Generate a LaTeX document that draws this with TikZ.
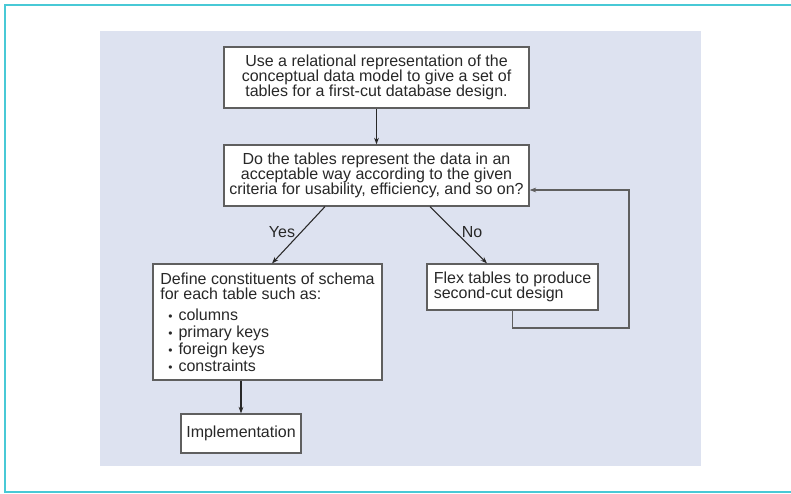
\documentclass[tikz,border=0pt]{standalone}
\usepackage{fontspec}
\setmainfont{Liberation Sans}
\definecolor{framecyan}{RGB}{72,201,214}
\definecolor{panelblue}{RGB}{221,226,240}
\definecolor{inkgray}{RGB}{40,40,40}
\definecolor{edgegray}{RGB}{95,95,95}
\usetikzlibrary{arrows.meta,positioning,calc}

\begin{document}
\begin{tikzpicture}[
    x=0.75pt, y=-0.75pt,
    box/.style={rectangle, draw=edgegray, line width=0.9pt, fill=white, text=inkgray,
        inner xsep=2pt, inner ysep=2pt, align=center,
        font=\fontsize{12}{11.3}\selectfont},
    arrow/.style={-{Stealth[length=5pt,width=3.6pt]}, line width=0.8pt, draw=inkgray},
    loopline/.style={line width=0.9pt, draw=edgegray, -{Stealth[length=5pt,width=3.6pt]}},
    answer/.style={text=inkgray, font=\fontsize{12}{11.3}\selectfont, inner sep=1pt}
]
    % page frame and panel
    \useasboundingbox (0,0) rectangle (791,493);
    \draw[framecyan, line width=0.9pt] (800,5) -- (5,5) -- (5,492) -- (800,492);
    \fill[panelblue] (100,31) rectangle (701,466);

    \node[box, minimum width=228.75pt, minimum height=45.75pt] (relational) at (376.5,77.5)
        {Use a relational representation of the\\conceptual data model to give a set of\\tables for a first-cut database design.};
    \node[box, minimum width=228.75pt, minimum height=45.75pt] (criteria) at (376.5,175.5)
        {Do the tables represent the data in an\\acceptable way according to the given\\criteria for usability, efficiency, and so on?};
    \node[box, minimum width=171.75pt, minimum height=87pt, align=left] (schema) at (267.5,322)
        {Define constituents of schema\\for each table such as:\\[5pt]
         \hspace*{6pt}{\small\textbullet}\hspace{4.5pt}columns\\[1.3pt]
         \hspace*{6pt}{\small\textbullet}\hspace{4.5pt}primary keys\\[1.3pt]
         \hspace*{6pt}{\small\textbullet}\hspace{4.5pt}foreign keys\\[1.3pt]
         \hspace*{6pt}{\small\textbullet}\hspace{4.5pt}constraints};
    \node[box, minimum width=90pt, minimum height=29.25pt] (impl) at (241,433.5) {Implementation};
    \node[box, minimum width=128.25pt, minimum height=34.5pt, align=left] (flex) at (512.5,287)
        {Flex tables to produce\\second-cut design};
    \coordinate (loopcorner) at (629,328);

    \draw[arrow] (relational) -- (criteria);
    \draw[arrow] ($(criteria.south)+(-51.5,0)$) -- ($(schema.north)+(4.5,0)$);
    \draw[arrow] ($(criteria.south)+(53.5,0)$) -- ($(flex.north)+(-25.5,0)$);
    \draw[arrow] (impl.north |- schema.south) -- (impl);
    \draw[loopline] (flex.south) |- (loopcorner) |- ($(criteria.east)+(0,14.5)$);

    \node[answer] (yes) at (282,232) {Yes};
    \node[answer] (no) at (472,232) {No};
\end{tikzpicture}
\end{document}
